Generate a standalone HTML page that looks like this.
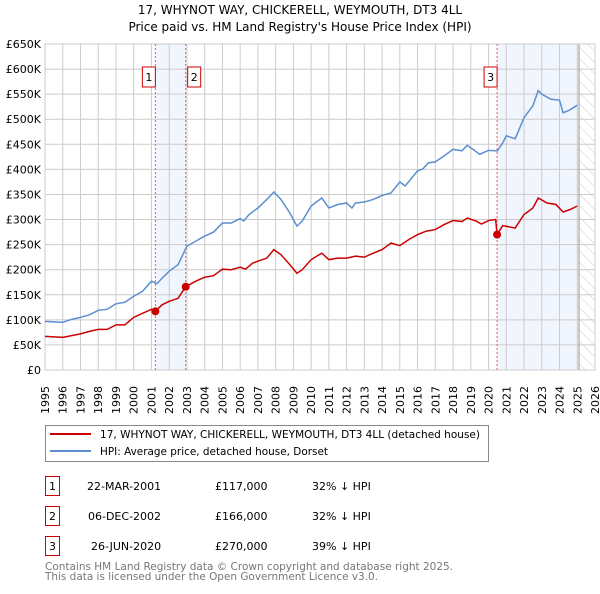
<!DOCTYPE html>
<html><head><meta charset="utf-8"><style>
body{margin:0;background:#fff;width:600px;height:590px;overflow:hidden;font-family:"DejaVu Sans","Liberation Sans",sans-serif}
</style></head><body>
<svg width="600" height="590" xmlns="http://www.w3.org/2000/svg" font-family="DejaVu Sans, Liberation Sans, sans-serif">
<defs><pattern id="hatch" width="8" height="8" patternUnits="userSpaceOnUse" patternTransform="rotate(-45)"><line x1="0" y1="0" x2="0" y2="8" stroke="#ccc" stroke-width="1"/></pattern></defs>
<text x="300" y="14" text-anchor="middle" font-size="12">17, WHYNOT WAY, CHICKERELL, WEYMOUTH, DT3 4LL</text>
<text x="300" y="31" text-anchor="middle" font-size="12">Price paid vs. HM Land Registry's House Price Index (HPI)</text>
<g id="plot"></g>
<g id="legend">
<rect x="45.5" y="425.5" width="443" height="36" fill="#fff" stroke="#888"/>
<line x1="50" y1="434" x2="91" y2="434" stroke="#cc0000" stroke-width="2"/>
<text x="100" y="438" font-size="11" textLength="380" lengthAdjust="spacingAndGlyphs">17, WHYNOT WAY, CHICKERELL, WEYMOUTH, DT3 4LL (detached house)</text>
<line x1="50" y1="451" x2="91" y2="451" stroke="#5b8fd0" stroke-width="2"/>
<text x="100" y="455" font-size="11" textLength="228" lengthAdjust="spacingAndGlyphs">HPI: Average price, detached house, Dorset</text>
</g>
<g id="table" font-size="11">
<rect x="45.5" y="476.5" width="14" height="19" fill="#fff" stroke="#c00"/><text x="52.5" y="490" text-anchor="middle">1</text>
<text x="87" y="490">22-MAR-2001</text><text x="215" y="490">£117,000</text><text x="312" y="490">32% ↓ HPI</text>
<rect x="45.5" y="506.5" width="14" height="19" fill="#fff" stroke="#c00"/><text x="52.5" y="520" text-anchor="middle">2</text>
<text x="88" y="520">06-DEC-2002</text><text x="215" y="520">£166,000</text><text x="312" y="520">32% ↓ HPI</text>
<rect x="45.5" y="536.5" width="14" height="19" fill="#fff" stroke="#c00"/><text x="52.5" y="550" text-anchor="middle">3</text>
<text x="91" y="550">26-JUN-2020</text><text x="215" y="550">£270,000</text><text x="312" y="550">39% ↓ HPI</text>
</g>
<text x="45" y="570" font-size="11" fill="#777" textLength="408" lengthAdjust="spacingAndGlyphs">Contains HM Land Registry data © Crown copyright and database right 2025.</text>
<text x="45" y="580" font-size="11" fill="#777" textLength="333" lengthAdjust="spacingAndGlyphs">This data is licensed under the Open Government Licence v3.0.</text>
</svg>
<script>
const hpiYears=[1995,1996,1996.5,1997,1997.5,1998,1998.5,1999,1999.5,2000,2000.5,2001,2001.3,2001.6,2002,2002.5,2003,2003.5,2004,2004.5,2005,2005.5,2006,2006.2,2006.5,2007,2007.5,2007.9,2008.3,2008.8,2009.2,2009.5,2010,2010.6,2011,2011.5,2012,2012.3,2012.5,2013,2013.5,2014,2014.5,2015,2015.3,2016,2016.3,2016.6,2017,2017.5,2018,2018.5,2018.8,2019.2,2019.5,2020,2020.5,2020.8,2021,2021.5,2022,2022.5,2022.8,2023,2023.5,2024,2024.2,2024.5,2025];
const hpiValues=[97,95,101,105,110,119,121,132,135,147,157,177,172,183,197,210,247,257,267,275,293,293,302,297,310,323,340,355,340,313,287,297,327,343,323,330,333,323,333,335,340,348,353,375,367,397,401,413,415,427,440,437,448,438,430,438,437,453,467,461,503,527,557,550,540,538,513,517,528];
const priceYears=[1995,1996,1997,1997.5,1998,1998.5,1999,1999.5,2000,2000.5,2001,2001.22,2001.6,2002,2002.5,2002.93,2003.5,2004,2004.5,2005,2005.5,2006,2006.3,2006.7,2007,2007.5,2007.9,2008.3,2008.8,2009.2,2009.5,2010,2010.6,2011,2011.5,2012,2012.5,2013,2013.5,2014,2014.5,2015,2015.5,2016,2016.5,2017,2017.5,2018,2018.5,2018.8,2019.3,2019.6,2020,2020.4,2020.48,2020.8,2021.5,2022,2022.5,2022.8,2023.3,2023.8,2024.2,2024.6,2025];
const priceValues=[67,65,72,77,81,81,90,90,105,113,121,117,130,137,143,166,177,185,188,201,200,205,201,213,217,223,240,230,210,193,200,220,233,220,223,223,227,225,233,240,253,248,260,270,277,280,290,298,296,303,297,291,298,300,270,288,283,310,323,343,333,330,315,320,327];
const saleLabels=["1","2","3"];
const saleYears=[2001.22,2002.93,2020.48];
const saleValues=[117,166,270];
const yTicks=[0,50,100,150,200,250,300,350,400,450,500,550,600,650];
const xTicks=[1995,1996,1997,1998,1999,2000,2001,2002,2003,2004,2005,2006,2007,2008,2009,2010,2011,2012,2013,2014,2015,2016,2017,2018,2019,2020,2021,2022,2023,2024,2025,2026];
const X0=45,X1=595,Y0=370,Y1=44;
const xs=y=>X0+(y-1995)/(2026-1995)*(X1-X0);
const ys=v=>Y0-v/650*(Y0-Y1);
const NS="http://www.w3.org/2000/svg";
const plot=document.getElementById('plot');
function mk(t,a,p){const e=document.createElementNS(NS,t);for(const k in a)e.setAttribute(k,a[k]);(p||plot).appendChild(e);return e;}
let s=mk('rect',{x:xs(saleYears[0]),y:Y1,width:xs(saleYears[1])-xs(saleYears[0]),height:Y0-Y1,fill:'#f1f5fd'});


s=mk('rect',{x:xs(saleYears[2]),y:Y1,width:xs(2025.1)-xs(saleYears[2]),height:Y0-Y1,fill:'#f1f5fd'});


s=mk('rect',{x:xs(2025.1),y:Y1,width:X1-xs(2025.1),height:Y0-Y1,fill:'url(#hatch)'});


yTicks.forEach(v=>{const y=ys(v);
const g=mk('line',{x1:X0,x2:X1,y1:y,y2:y,stroke:'#ccc','stroke-width':1});


const t=mk('text',{x:X0-4,y:y+4,'text-anchor':'end','font-size':11});
t.textContent=v===0?'£0':'£'+v+'K';

});
xTicks.forEach(yr=>{const x=xs(yr);
const g=mk('line',{x1:x,x2:x,y1:Y1,y2:Y0,stroke:'#ccc','stroke-width':1});


const t=mk('text',{x:0,y:0,'font-size':11,transform:`translate(${x+4},414) rotate(-90)`});
t.textContent=yr;

});
s=mk('line',{x1:xs(2025.1),x2:xs(2025.1),y1:Y1,y2:Y0,stroke:'#999','stroke-width':1});


s=mk('rect',{x:X0,y:Y1,width:X1-X0,height:Y0-Y1,fill:'none',stroke:'#ccc'});


saleYears.forEach((yr,i)=>{const x=xs(yr);
const l=mk('line',{x1:x,x2:x,y1:Y1,y2:Y0,stroke:'#e06060','stroke-width':1,'stroke-dasharray':'2,2'});


const r=mk('rect',{x:x-(i==1?-2:13),y:67,width:13,height:20,fill:'#fff',stroke:'#c00'});


const t=mk('text',{x:x-(i==1?-2:13)+6.5,y:81,'text-anchor':'middle','font-size':11});
t.textContent=saleLabels[i];

});
let p=mk('polyline',{points:hpiYears.map((y,i)=>xs(y)+','+ys(hpiValues[i])).join(' '),fill:'none',stroke:'#5b8fd0','stroke-width':1.5});


p=mk('polyline',{points:priceYears.map((y,i)=>xs(y)+','+ys(priceValues[i])).join(' '),fill:'none',stroke:'#cc0000','stroke-width':1.5});


saleYears.forEach((yr,i)=>{const c=mk('circle',{cx:xs(yr),cy:ys(saleValues[i]),r:4,fill:'#cc0000'});

});
</script>
</body></html>
